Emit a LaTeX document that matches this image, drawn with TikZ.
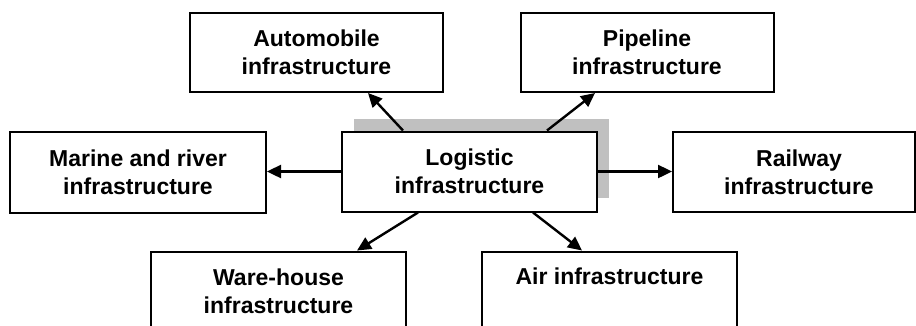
\documentclass[tikz,border=0pt]{standalone}
\usepackage{fontspec}
\setmainfont{Liberation Sans}
\usetikzlibrary{arrows.meta}
\definecolor{shadowgray}{RGB}{192,192,192}
\begin{document}
\begin{tikzpicture}[x=1pt,y=-1pt,
  box/.style={draw,line width=2pt,fill=white,minimum width=255pt,
    minimum height=80pt,inner sep=0pt,align=center,
    font=\bfseries\fontsize{23}{28}\selectfont},
  link/.style={line width=2.4pt,-{Triangle[length=14pt,width=13pt]}}]
\useasboundingbox (0,0) rectangle (916,325);
\clip (0,0) rectangle (916,325);
% offset shadow behind the central box
\fill[shadowgray] (354,119) rectangle (609,198);
\node[box] (logi) at (469.5,171.5) {Logistic\\infrastructure};
% surrounding boxes
\node[box,minimum width=253pt,minimum height=79pt] (auto) at (316.5,52.5) {Automobile\\infrastructure};
\node[box,minimum width=253pt,minimum height=79pt] (pipe) at (647,52.5) {Pipeline\\infrastructure};
\node[box,minimum width=256pt,minimum height=81pt] (marine) at (138,172.5) {Marine and river\\infrastructure};
\node[box,minimum width=242pt] (rail) at (794,172) {\hspace*{10pt}Railway\\\hspace*{10pt}infrastructure};
\node[box] (ware) at (278.5,291.5) {Ware-house\\infrastructure};
\node[box] (air) at (609.5,291.5) {\rule{0pt}{23pt}Air infrastructure\\\strut};
% connectors
\draw[link] ([xshift=-66.5pt]logi.north) -- ([xshift=51.5pt]auto.south);
\draw[link] ([xshift=77.5pt]logi.north) -- ([xshift=-52pt]pipe.south);
\draw[link] (logi.west) -- (logi.west -| marine.east);
\draw[link] (logi.east) -- (logi.east -| rail.west);
\draw[link] ([xshift=-51.5pt]logi.south) -- ([xshift=78.5pt]ware.north);
\draw[link] ([xshift=63.5pt]logi.south) -- ([xshift=-27.5pt]air.north);
\end{tikzpicture}
\end{document}
